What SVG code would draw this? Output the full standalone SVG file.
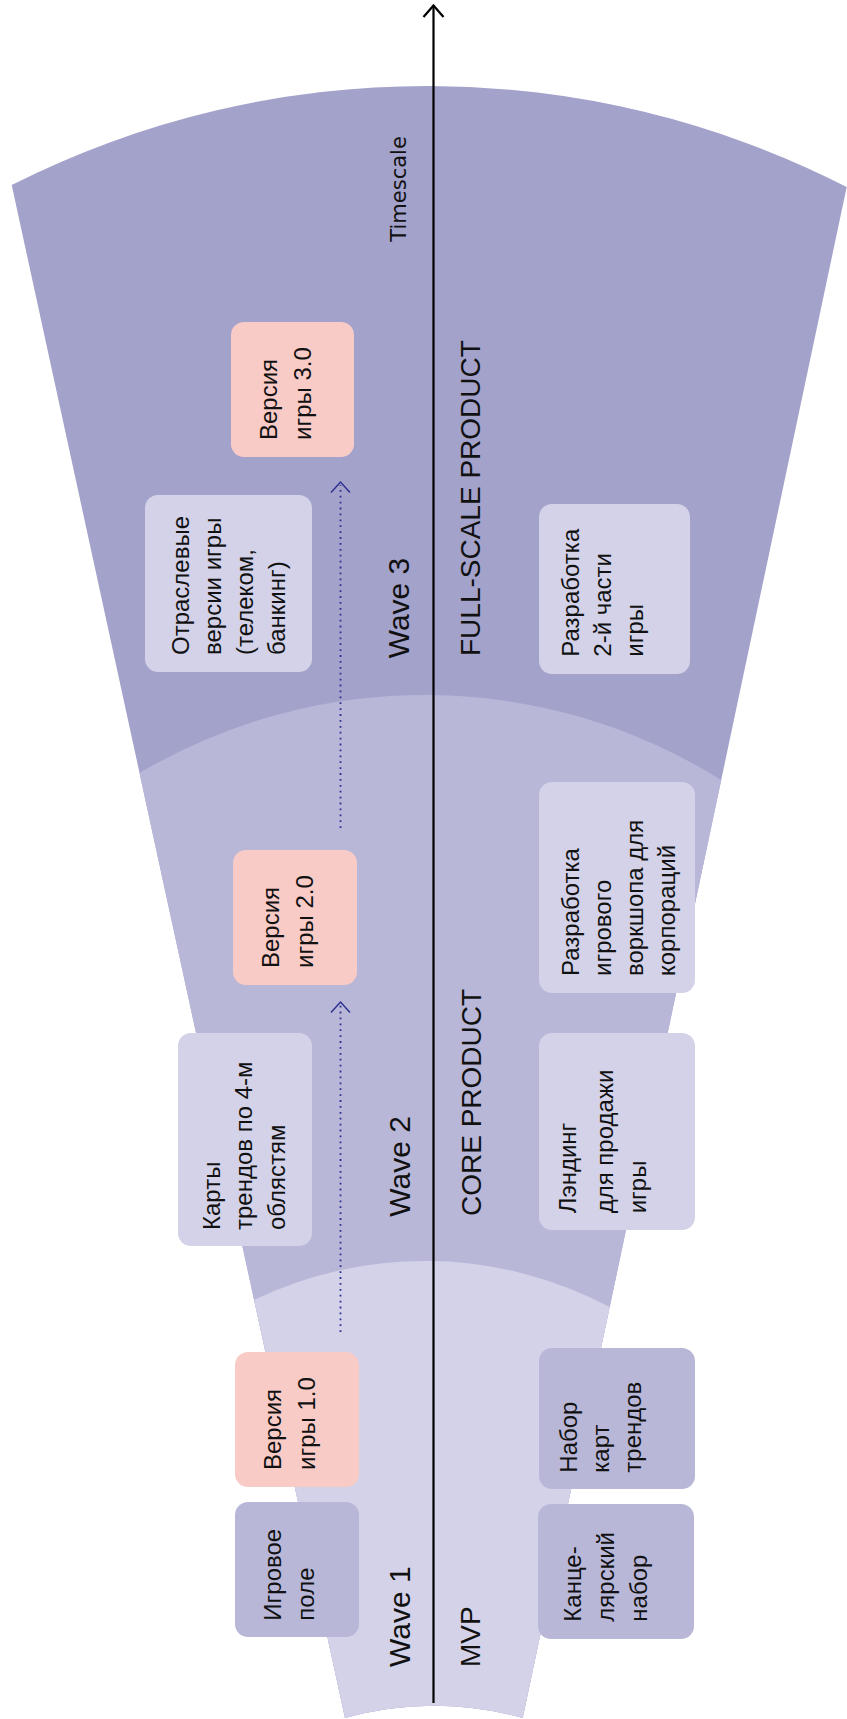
<svg xmlns="http://www.w3.org/2000/svg" width="847" height="1719" viewBox="0 0 847 1719">
<style>
.b3{fill:#A3A2CB}.b2{fill:#B8B7D8}.b1{fill:#D3D2E8}
.light{fill:#D3D2E8}.mid{fill:#B8B7D8}.pink{fill:#F9CBC7}
.t{font-family:"Liberation Sans",Arial,sans-serif;font-size:24px;fill:#111}
.lab{font-family:"Liberation Sans",Arial,sans-serif;font-size:28px;fill:#111}
.wave{font-family:"Liberation Sans",Arial,sans-serif;font-size:30px;fill:#111}
.ts{font-family:"DejaVu Sans",sans-serif;font-size:21px;fill:#111}
.dot{fill:none;stroke:#2F3192;stroke-width:1.8;stroke-dasharray:1.8 4.1}
.chev{fill:none;stroke:#2F3192;stroke-width:1.5}
.axis{fill:none;stroke:#000;stroke-width:2.2}
</style>
<g id="bands">
<path class="b3" d="M 11.7 185 A 921 921 0 0 1 846.7 187 L 522.7 1718 A 336 336 0 0 0 345 1718 Z"/>
<path class="b2" d="M 139.5 773 A 560 560 0 0 1 721.2 780 L 522.7 1718 A 336 336 0 0 0 345 1718 Z"/>
<path class="b1" d="M 254.1 1300 A 394 394 0 0 1 609.7 1307 L 522.7 1718 A 336 336 0 0 0 345 1718 Z"/>
</g>
<g id="connectors">
<path class="axis" d="M 433.5 1703 L 433.5 5.5"/>
<path class="axis" d="M 423.5 17 L 433.5 5.5 L 443.5 17"/>
<path class="dot" d="M 340.5 1332 L 340.5 1004"/>
<path class="chev" d="M 331 1012.5 L 340.5 1002 L 350 1012.5"/>
<path class="dot" d="M 340.5 828 L 340.5 485"/>
<path class="chev" d="M 331 492.5 L 340.5 482 L 350 492.5"/>
</g>
<g id="labels">
<text class="ts" transform="rotate(-90)" x="-241.7" y="406">Timescale</text>
<text class="wave" transform="rotate(-90)" x="-658.3" y="409">Wave 3</text>
<text class="lab" transform="rotate(-90)" x="-656" y="480">FULL-SCALE PRODUCT</text>
<text class="wave" transform="rotate(-90)" x="-1216.7" y="409.5">Wave 2</text>
<text class="lab" transform="rotate(-90)" x="-1216" y="481">CORE PRODUCT</text>
<text class="wave" transform="rotate(-90)" x="-1667" y="409.5">Wave 1</text>
<text class="lab" transform="rotate(-90)" x="-1667" y="480">MVP</text>
</g>
<g id="n-v3">
<rect class="pink" x="231" y="322" width="123" height="135" rx="13"/>
<text class="t" transform="rotate(-90)"><tspan x="-440" y="276.5">Версия</tspan><tspan x="-440" y="310.5">игры 3.0</tspan></text>
</g>
<g id="n-industry">
<rect class="light" x="145" y="495" width="167" height="177" rx="13"/>
<text class="t" transform="rotate(-90)"><tspan x="-655" y="188.5">Отраслевые</tspan><tspan x="-655" y="220.5">версии игры</tspan><tspan x="-655" y="252.5">(телеком,</tspan><tspan x="-655" y="284.5">банкинг)</tspan></text>
</g>
<g id="n-part2">
<rect class="light" x="539" y="504" width="151" height="170" rx="13"/>
<text class="t" transform="rotate(-90)"><tspan x="-656.7" y="578.7">Разработка</tspan><tspan x="-656.7" y="610.7">2-й части</tspan><tspan x="-656.7" y="642.7">игры</tspan></text>
</g>
<g id="n-v2">
<rect class="pink" x="233" y="850" width="124" height="135" rx="13"/>
<text class="t" transform="rotate(-90)"><tspan x="-968" y="278.5">Версия</tspan><tspan x="-968" y="312.5">игры 2.0</tspan></text>
</g>
<g id="n-workshop">
<rect class="light" x="539" y="782" width="156" height="211" rx="13"/>
<text class="t" transform="rotate(-90)"><tspan x="-976" y="578.5">Разработка</tspan><tspan x="-976" y="610.5">игрового</tspan><tspan x="-976" y="642.5">воркшопа для</tspan><tspan x="-976" y="674.5">корпораций</tspan></text>
</g>
<g id="n-cards4">
<rect class="light" x="178" y="1033" width="134" height="213" rx="13"/>
<text class="t" transform="rotate(-90)"><tspan x="-1230" y="219.5">Карты</tspan><tspan x="-1230" y="252">трендов по 4-м</tspan><tspan x="-1230" y="284.5">облястям</tspan></text>
</g>
<g id="n-landing">
<rect class="light" x="539" y="1033" width="156" height="197" rx="13"/>
<text class="t" transform="rotate(-90)"><tspan x="-1213.3" y="576">Лэндинг</tspan><tspan x="-1213.3" y="613">для продажи</tspan><tspan x="-1213.3" y="646">игры</tspan></text>
</g>
<g id="n-v1">
<rect class="pink" x="235" y="1352" width="124" height="135" rx="13"/>
<text class="t" transform="rotate(-90)"><tspan x="-1470" y="280.5">Версия</tspan><tspan x="-1470" y="314.5">игры 1.0</tspan></text>
</g>
<g id="n-field">
<rect class="mid" x="235" y="1502" width="124" height="135" rx="13"/>
<text class="t" transform="rotate(-90)"><tspan x="-1620.7" y="280.5">Игровое</tspan><tspan x="-1620.7" y="313.5">поле</tspan></text>
</g>
<g id="n-cardset">
<rect class="mid" x="539" y="1348" width="156" height="141" rx="13"/>
<text class="t" transform="rotate(-90)"><tspan x="-1472.7" y="577">Набор</tspan><tspan x="-1472.7" y="609">карт</tspan><tspan x="-1472.7" y="641">трендов</tspan></text>
</g>
<g id="n-stationery">
<rect class="mid" x="538" y="1504" width="156" height="135" rx="13"/>
<text class="t" transform="rotate(-90)"><tspan x="-1621.7" y="581">Канце-</tspan><tspan x="-1621.7" y="614">лярский</tspan><tspan x="-1621.7" y="647">набор</tspan></text>
</g>
</svg>
